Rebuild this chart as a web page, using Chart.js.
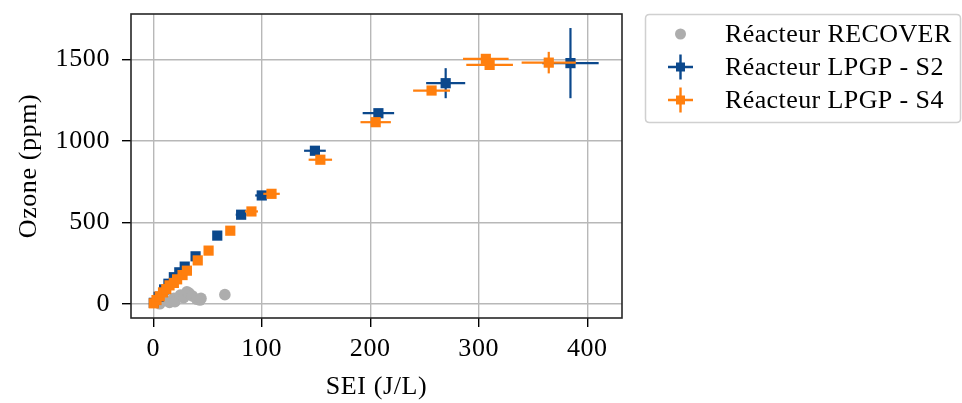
<!DOCTYPE html>
<html>
<head>
<meta charset="utf-8">
<script src="https://cdn.jsdelivr.net/npm/chart.js@4.4.1/dist/chart.umd.min.js"></script>
<style>
  html, body { margin: 0; padding: 0; background: #ffffff; }
  #wrap { width: 962px; height: 403px; position: relative; }
  canvas { display: block; }
</style>
</head>
<body>
<div id="wrap"><canvas id="c" width="962" height="403"></canvas></div>
<script>
// ---------------- data ----------------
const seriesNames = ['Réacteur RECOVER', 'Réacteur LPGP - S2', 'Réacteur LPGP - S4'];

const recoverX = [6, 11, 15, 19, 20, 25, 28, 31, 33, 36, 40, 43, 44, 66];
const recoverY = [2, 25, 10, 35, 15, 55, 40, 75, 68, 50, 30, 25, 35, 58];

const s2X    = [0.5, 5, 10, 14, 19, 24, 29, 39, 59, 81, 100, 149, 207.5, 269.5, 384.5];
const s2Y    = [8, 45, 90, 125, 165, 195, 230, 293, 420, 548, 666, 940, 1170, 1354, 1477];
const s2XErr = [0.3, 0.5, 0.8, 1, 1.2, 1.5, 1.8, 2.2, 3, 5, 6, 10, 14.5, 18, 26];
const s2YErr = [2, 3, 4, 5, 6, 7, 8, 10, 12, 15, 18, 20, 25, 92, 215];

const s4X    = [0.5, 3, 6, 9, 12, 15, 19, 22, 27, 31, 41, 51, 71, 90.5, 109, 154, 205, 256.5, 306.5, 310, 364.5];
const s4Y    = [5, 25, 48, 72, 92, 115, 130, 152, 178, 205, 268, 328, 450, 568, 676, 885, 1115, 1309, 1503, 1466, 1480];
const s4XErr = [0.2, 0.3, 0.4, 0.5, 0.6, 0.7, 0.8, 1, 1.2, 1.5, 2, 2.5, 3.5, 6, 7.6, 10.8, 14, 17, 21, 21.5, 25];
const s4YErr = [1, 2, 2, 3, 3, 4, 4, 5, 5, 6, 7, 8, 10, 12, 14, 16, 20, 22, 25, 25, 66];

const xTicks = [0, 100, 200, 300, 400];
const yTicks = [0, 500, 1000, 1500];

const xTitle = 'SEI (J/L)';
const yTitle = 'Ozone (ppm)';

// ---------------- styles ----------------
const COL_GREY = '#adadad';
const COL_BLUE = '#0b488c';
const COL_ORANGE = '#ff7f0e';
const FONT = "'Liberation Serif', 'Times New Roman', serif";
const FS = 26;

function pts(xs, ys, xe, ye) {
  return xs.map((x, i) => ({ x: x, y: ys[i], xe: xe ? xe[i] : 0, ye: ye ? ye[i] : 0 }));
}

const spacingPlugin = {
  id: 'spacing',
  beforeDraw(chart) { try { chart.ctx.letterSpacing = '0.6px'; } catch (e) {} },
  afterDraw(chart) { try { chart.ctx.letterSpacing = '0px'; } catch (e) {} }
};

const errorBarPlugin = {
  id: 'errorBars',
  beforeDatasetDraw(chart, args) {
    const ds = chart.data.datasets[args.index];
    if (!ds.errorBars) return;
    const xs = chart.scales.x, ys = chart.scales.y;
    const ctx = chart.ctx;
    const a = chart.chartArea;
    ctx.save();
    ctx.beginPath();
    ctx.rect(a.left, a.top, a.right - a.left, a.bottom - a.top);
    ctx.clip();
    ctx.strokeStyle = ds.backgroundColor;
    ctx.lineWidth = 2.2;
    ctx.lineCap = 'butt';
    ds.data.forEach(p => {
      const px = xs.getPixelForValue(p.x), py = ys.getPixelForValue(p.y);
      if (p.xe) {
        ctx.beginPath();
        ctx.moveTo(xs.getPixelForValue(p.x - p.xe), py);
        ctx.lineTo(xs.getPixelForValue(p.x + p.xe), py);
        ctx.stroke();
      }
      if (p.ye) {
        ctx.beginPath();
        ctx.moveTo(px, ys.getPixelForValue(p.y - p.ye));
        ctx.lineTo(px, ys.getPixelForValue(p.y + p.ye));
        ctx.stroke();
      }
    });
    ctx.restore();
  }
};

const framePlugin = {
  id: 'frame',
  afterDatasetsDraw(chart) {
    const a = chart.chartArea, ctx = chart.ctx;
    ctx.save();
    ctx.strokeStyle = '#262626';
    ctx.lineWidth = 1.6;
    ctx.strokeRect(a.left, a.top, a.right - a.left, a.bottom - a.top);
    ctx.restore();
  }
};

function roundRect(ctx, x, y, w, h, r) {
  ctx.beginPath();
  ctx.moveTo(x + r, y);
  ctx.lineTo(x + w - r, y);
  ctx.quadraticCurveTo(x + w, y, x + w, y + r);
  ctx.lineTo(x + w, y + h - r);
  ctx.quadraticCurveTo(x + w, y + h, x + w - r, y + h);
  ctx.lineTo(x + r, y + h);
  ctx.quadraticCurveTo(x, y + h, x, y + h - r);
  ctx.lineTo(x, y + r);
  ctx.quadraticCurveTo(x, y, x + r, y);
  ctx.closePath();
}

const legendPlugin = {
  id: 'boxLegend',
  afterDraw(chart) {
    const ctx = chart.ctx;
    ctx.save();
    roundRect(ctx, 645.5, 14.5, 315, 108, 4);
    ctx.fillStyle = 'rgba(255,255,255,0.8)';
    ctx.fill();
    ctx.strokeStyle = '#d0d0d0';
    ctx.lineWidth = 1.5;
    ctx.stroke();
    const rows = [34, 67, 100];
    const mx = 680.5;
    chart.data.datasets.forEach((ds, i) => {
      const y = rows[i];
      ctx.fillStyle = ds.backgroundColor;
      ctx.strokeStyle = ds.backgroundColor;
      if (ds.errorBars) {
        ctx.lineWidth = 2.4;
        ctx.beginPath();
        ctx.moveTo(mx - 12.5, y); ctx.lineTo(mx + 12.5, y);
        ctx.moveTo(mx, y - 12.5); ctx.lineTo(mx, y + 12.5);
        ctx.stroke();
        ctx.fillRect(mx - 4.5, y - 4.5, 9, 9);
      } else {
        ctx.beginPath();
        ctx.arc(mx, y, 5.5, 0, Math.PI * 2);
        ctx.fill();
      }
      ctx.fillStyle = '#000';
      ctx.font = FS + 'px ' + FONT;
      ctx.textBaseline = 'middle';
      ctx.textAlign = 'left';
      try { ctx.letterSpacing = '0.4px'; } catch (e) {}
      ctx.fillText(ds.label, 725, y + 1);
    });
    ctx.restore();
  }
};

const data = {
  datasets: [
    {
      label: seriesNames[0],
      data: pts(recoverX, recoverY),
      backgroundColor: COL_GREY,
      borderColor: COL_GREY,
      pointStyle: 'circle',
      pointRadius: 5.8,
      pointBorderWidth: 0,
      errorBars: false,
      order: 3
    },
    {
      label: seriesNames[1],
      data: pts(s2X, s2Y, s2XErr, s2YErr),
      backgroundColor: COL_BLUE,
      borderColor: COL_BLUE,
      pointStyle: 'rect',
      pointRadius: 7.2,
      pointBorderWidth: 0,
      errorBars: true,
      order: 2
    },
    {
      label: seriesNames[2],
      data: pts(s4X, s4Y, s4XErr, s4YErr),
      backgroundColor: COL_ORANGE,
      borderColor: COL_ORANGE,
      pointStyle: 'rect',
      pointRadius: 7.2,
      pointBorderWidth: 0,
      errorBars: true,
      order: 1
    }
  ]
};

Chart.defaults.font.family = FONT;
Chart.defaults.font.size = FS;
Chart.defaults.color = '#000';

new Chart(document.getElementById('c'), {
  type: 'scatter',
  data: data,
  plugins: [spacingPlugin, errorBarPlugin, framePlugin, legendPlugin],
  options: {
    responsive: false,
    animation: false,
    layout: { padding: { left: 0, right: 340, top: 14, bottom: 0 } },
    plugins: { legend: { display: false }, tooltip: { enabled: false } },
    elements: { point: { hoverRadius: 7 } },
    scales: {
      x: {
        type: 'linear',
        min: -20.5,
        max: 432,
        afterFit(s) { s.height = 85; s.paddingLeft = 0; s.paddingRight = 0; },
        afterBuildTicks(s) { s.ticks = xTicks.map(v => ({ value: v })); },
        grid: { color: '#b8b8b8', lineWidth: 1.4, tickColor: '#000', tickLength: 9, drawTicks: true },
        border: { display: false },
        ticks: { padding: 7, font: { size: FS, lineHeight: 1.2 }, color: '#000', maxRotation: 0,
                 callback: v => String(v) },
        title: { display: true, text: xTitle, font: { size: FS, lineHeight: 1.2 }, color: '#000', padding: { top: 0, bottom: 0 } }
      },
      y: {
        type: 'linear',
        min: -85,
        max: 1778,
        afterFit(s) { s.width = 131; s.paddingTop = 0; s.paddingBottom = 0; },
        afterBuildTicks(s) { s.ticks = yTicks.map(v => ({ value: v })); },
        grid: { color: '#b8b8b8', lineWidth: 1.4, tickColor: '#000', tickLength: 9, drawTicks: true },
        border: { display: false },
        ticks: { padding: 12, font: { size: FS, lineHeight: 1.2 }, color: '#000',
                 callback: v => String(v) },
        title: { display: true, text: yTitle, font: { size: FS, lineHeight: 1.2 }, color: '#000', padding: { top: 14, bottom: 0 } }
      }
    }
  }
});
</script>
</body>
</html>
